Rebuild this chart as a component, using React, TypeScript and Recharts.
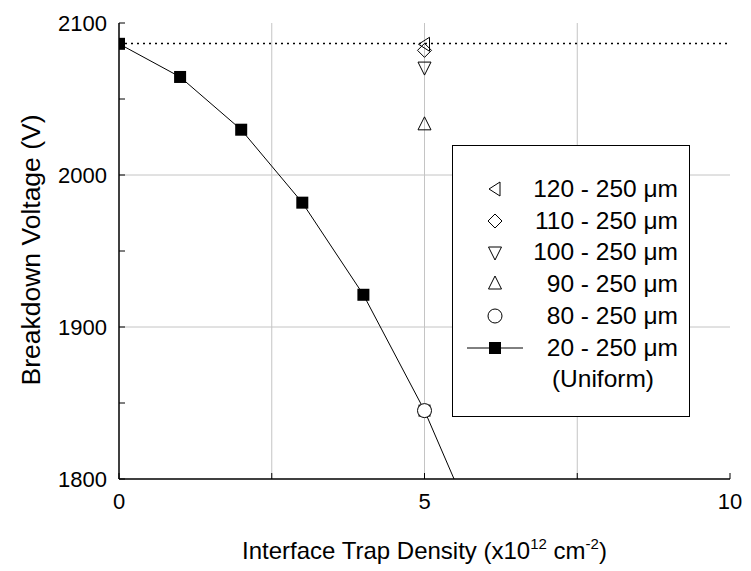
import React from 'react';
import { ComposedChart, Line, Scatter, XAxis, YAxis, CartesianGrid, ReferenceLine, Legend } from 'recharts';

const FONT = "'Liberation Sans', Arial, sans-serif";

// Uniform (20 - 250 µm) series
const uniformDensity = [0, 1, 2, 3, 4, 5, 6];
const uniformVoltage = [2086.3, 2064.5, 2029.8, 1981.8, 1921.2, 1845, 1752];

// Other structures, all at 5 x10^12 cm^-2
const s120 = [{ x: 5, y: 2086 }];
const s110 = [{ x: 5, y: 2082 }];
const s100 = [{ x: 5, y: 2071 }];
const s90 = [{ x: 5, y: 2033 }];
const s80 = [{ x: 5, y: 1845 }];

const idealVoltage = 2086.5;

const xTicks = [0, 2.5, 5, 7.5, 10];
const yTicks = [1800, 1850, 1900, 1950, 2000, 2050, 2100];
const xGrid = [2.5, 5, 7.5];
const yGrid = [1900, 2000];

const legendLabels = ['120 - 250 μm', '110 - 250 μm', '100 - 250 μm', '90 - 250 μm', '80 - 250 μm', '20 - 250 μm'];
const legendShapes = ['left', 'diamond', 'down', 'up', 'circle', 'square'];

const uniformData = uniformDensity.map((x, i) => ({ x, y: uniformVoltage[i] }));

const markerPath = (kind: string, cx: number, cy: number) => {
  switch (kind) {
    case 'left':
      return `M${cx - 6},${cy} L${cx + 5},${cy - 7} L${cx + 5},${cy + 7} Z`;
    case 'diamond':
      return `M${cx},${cy - 7} L${cx + 7},${cy} L${cx},${cy + 7} L${cx - 7},${cy} Z`;
    case 'down':
      return `M${cx - 6.5},${cy - 5} L${cx + 6.5},${cy - 5} L${cx},${cy + 8} Z`;
    case 'up':
      return `M${cx - 6.5},${cy + 5} L${cx + 6.5},${cy + 5} L${cx},${cy - 8} Z`;
    default:
      return '';
  }
};

const Marker = ({ kind, cx, cy }: { kind: string; cx: number; cy: number }) => {
  if (kind === 'circle') return <circle cx={cx} cy={cy} r={7} fill="#fff" stroke="#000" strokeWidth={1} />;
  if (kind === 'square') return <rect x={cx - 6} y={cy - 6} width={12} height={12} fill="#000" />;
  return <path d={markerPath(kind, cx, cy)} fill="none" stroke="#000" strokeWidth={1} />;
};

const shapeOf = (kind: string) => (p: any) => <Marker kind={kind} cx={p.cx} cy={p.cy} />;

const LegendBox = () => (
  <div
    style={{
      width: 238,
      height: 272,
      boxSizing: 'border-box',
      border: '1.5px solid #000',
      background: '#fff',
      position: 'relative',
      fontFamily: FONT,
      fontSize: 24.5,
      color: '#000',
    }}
  >
    {legendLabels.map((label, i) => {
      const cy = 43 + i * 31.7;
      return (
        <div key={label} style={{ position: 'absolute', left: 0, top: cy - 16, width: 236, height: 32 }}>
          <svg width={80} height={32} style={{ position: 'absolute', left: 0, top: 0 }}>
            {legendShapes[i] === 'square' && <line x1={14} y1={16} x2={70} y2={16} stroke="#000" strokeWidth={1} />}
            <Marker kind={legendShapes[i]} cx={42} cy={16} />
          </svg>
          <div style={{ position: 'absolute', right: 11, top: 0, lineHeight: '32px', whiteSpace: 'pre' }}>{label}</div>
        </div>
      );
    })}
    <div style={{ position: 'absolute', left: 90, top: 217, width: 120, textAlign: 'center', lineHeight: '32px' }}>
      (Uniform)
    </div>
  </div>
);

const XTitle = (props: any) => {
  const vb = props.viewBox || { x: 119, y: 479, width: 611, height: 92 };
  const cx = vb.x + vb.width / 2;
  return (
    <text x={cx} y={559} textAnchor="middle" fontFamily={FONT} fontSize={24} fill="#000">
      Interface Trap Density (x10
      <tspan dy={-10} fontSize={15}>12</tspan>
      <tspan dy={10}> cm</tspan>
      <tspan dy={-10} fontSize={15}>-2</tspan>
      <tspan dy={10}>)</tspan>
    </text>
  );
};

const YTitle = () => (
  <text
    x={31}
    y={250}
    transform="rotate(-90 31 250)"
    textAnchor="middle"
    dominantBaseline="central"
    fontFamily={FONT}
    fontSize={26.5}
    fill="#000"
  >
    Breakdown Voltage (V)
  </text>
);

export default function App() {
  const tickStyle = { fill: '#000', fontSize: 22, fontFamily: FONT };
  return (
    <div style={{ position: 'absolute', left: 0, top: 0 }}>
      <ComposedChart width={751} height={571} margin={{ top: 23, right: 21, bottom: 0, left: 0 }}>
        <CartesianGrid stroke="#c4c4c4" strokeWidth={1} verticalValues={xGrid} horizontalValues={yGrid} fill="none" />
        <XAxis
          dataKey="x"
          type="number"
          domain={[0, 10]}
          ticks={xTicks}
          interval={0}
          allowDataOverflow
          height={92}
          tickSize={-6}
          tickMargin={20}
          tickFormatter={(v: number) => (v % 5 === 0 ? String(v) : '')}
          axisLine={{ stroke: '#000', strokeWidth: 1.5 }}
          tickLine={{ stroke: '#000', strokeWidth: 1 }}
          tick={tickStyle}
          label={<XTitle />}
        />
        <XAxis
          xAxisId="top"
          orientation="top"
          type="number"
          domain={[0, 10]}
          ticks={xTicks}
          interval={0}
          allowDataOverflow
          height={0}
          tickSize={-6}
          tickFormatter={() => ''}
          axisLine={{ stroke: '#000', strokeWidth: 1.5 }}
          tickLine={{ stroke: '#000', strokeWidth: 1 }}
        />
        <YAxis
          dataKey="y"
          type="number"
          domain={[1800, 2100]}
          ticks={yTicks}
          interval={0}
          allowDataOverflow
          width={119}
          tickSize={-6}
          tickMargin={18}
          tickFormatter={(v: number) => (v % 100 === 0 ? String(v) : '')}
          axisLine={{ stroke: '#000', strokeWidth: 1.5 }}
          tickLine={{ stroke: '#000', strokeWidth: 1 }}
          tick={tickStyle}
          label={<YTitle />}
        />
        <YAxis
          yAxisId="right"
          orientation="right"
          type="number"
          domain={[1800, 2100]}
          ticks={yTicks}
          interval={0}
          allowDataOverflow
          width={0}
          tickSize={-6}
          tickFormatter={() => ''}
          axisLine={{ stroke: '#000', strokeWidth: 1.5 }}
          tickLine={{ stroke: '#000', strokeWidth: 1 }}
        />
        <ReferenceLine y={idealVoltage} stroke="#000" strokeWidth={1.5} strokeDasharray="2 4" />
        <Line
          data={uniformData}
          dataKey="y"
          type="linear"
          stroke="#000"
          strokeWidth={1}
          dot={false}
          activeDot={false}
          isAnimationActive={false}
        />
        <Scatter data={uniformData} dataKey="y" shape={shapeOf('square')} isAnimationActive={false} />
        <Scatter data={s120} dataKey="y" shape={shapeOf('left')} isAnimationActive={false} />
        <Scatter data={s110} dataKey="y" shape={shapeOf('diamond')} isAnimationActive={false} />
        <Scatter data={s100} dataKey="y" shape={shapeOf('down')} isAnimationActive={false} />
        <Scatter data={s90} dataKey="y" shape={shapeOf('up')} isAnimationActive={false} />
        <Scatter data={s80} dataKey="y" shape={shapeOf('circle')} isAnimationActive={false} />
        <Legend
          layout="horizontal"
          verticalAlign="middle"
          align="center"
          wrapperStyle={{ left: 452, top: 145, width: 238, height: 272 }}
          content={() => <LegendBox />}
        />
      </ComposedChart>
    </div>
  );
}
